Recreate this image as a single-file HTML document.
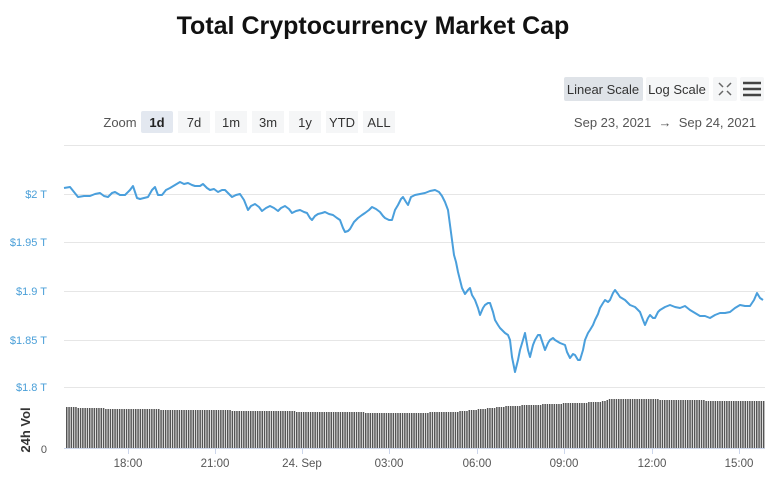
<!DOCTYPE html>
<html><head><meta charset="utf-8"><style>
body{margin:0;background:#fff;width:780px;height:483px;overflow:hidden;font-family:"Liberation Sans",sans-serif}
</style></head><body>
<svg width="780" height="483" xmlns="http://www.w3.org/2000/svg" font-family="Liberation Sans, sans-serif">
<text x="373" y="34" text-anchor="middle" font-size="25" font-weight="bold" fill="#111">Total Cryptocurrency Market Cap</text>
<rect x="564" y="77" width="79" height="24" rx="2" fill="#dfe3e8"/>
<text x="603" y="94" text-anchor="middle" font-size="13" fill="#333">Linear Scale</text>
<rect x="646" y="77" width="63" height="24" rx="2" fill="#f5f6f7"/>
<text x="677" y="94" text-anchor="middle" font-size="13" fill="#333">Log Scale</text>
<rect x="713" y="77" width="24" height="24" rx="2" fill="#f5f6f7"/>
<g stroke="#666" stroke-width="1.5"><path d="M719 83l4 4M731 83l-4 4M719 95l4-4M731 95l-4-4"/></g>
<rect x="740" y="77" width="24" height="24" rx="2" fill="#f5f6f7"/>
<g stroke="#444" stroke-width="2.5"><path d="M743 83h18M743 89h18M743 95h18"/></g>
<text x="665" y="127" text-anchor="middle" font-size="13" fill="#555">Sep 23, 2021 &#160;→&#160; Sep 24, 2021</text>
<text x="120" y="127" text-anchor="middle" font-size="13" fill="#555">Zoom</text>
<rect x="141" y="111" width="32" height="22" rx="2" fill="#e3e8f0"/>
<text x="157" y="127" text-anchor="middle" font-size="13" font-weight="bold" fill="#222">1d</text>
<g font-size="13" fill="#333" text-anchor="middle">
<rect x="178" y="111" width="32" height="22" fill="#f5f6f7"/><text x="194" y="127">7d</text>
<rect x="215" y="111" width="32" height="22" fill="#f5f6f7"/><text x="231" y="127">1m</text>
<rect x="252" y="111" width="32" height="22" fill="#f5f6f7"/><text x="268" y="127">3m</text>
<rect x="289" y="111" width="32" height="22" fill="#f5f6f7"/><text x="305" y="127">1y</text>
<rect x="326" y="111" width="32" height="22" fill="#f5f6f7"/><text x="342" y="127">YTD</text>
<rect x="363" y="111" width="32" height="22" fill="#f5f6f7"/><text x="379" y="127">ALL</text>
</g>
<g stroke="#e6e6e6" stroke-width="1">
<path d="M64 145.5H765M64 194.5H765M64 242.5H765M64 291.5H765M64 340.5H765M64 387.5H765"/>
</g>
<g font-size="11" fill="#4a9fd8" text-anchor="end">
<text x="47" y="198">$2 T</text><text x="47" y="246">$1.95 T</text><text x="47" y="295">$1.9 T</text><text x="47" y="344">$1.85 T</text><text x="47" y="391">$1.8 T</text>
</g>
<text x="47" y="453" font-size="11" fill="#555" text-anchor="end">0</text>
<text transform="translate(30,430) rotate(-90)" font-size="13" font-weight="bold" fill="#333" text-anchor="middle">24h Vol</text>
<g id="bars"></g>
<line x1="64" y1="448.5" x2="765" y2="448.5" stroke="#ccd6eb"/>
<polyline fill="none" stroke="#4a9fdc" stroke-width="2" stroke-linejoin="round" points="64,188 70,187 74,192 78,197 84,196 90,196 95,194 100,193 104,196 108,197 112,193 115,192 120,195 125,195 130,190 133,186 137,198 140,199 148,197 152,190 155,187 158,195 162,195 166,190 170,188 175,185 180,182 184,184 188,183 192,185 195,186 200,186 203,184 207,188 210,190 214,189 218,192 222,190 225,190 229,194 232,197 236,195 240,194 244,200 248,210 251,206 255,204 259,207 262,211 266,208 270,206 274,208 278,211 281,208 285,206 289,209 292,213 296,211 300,210 304,212 307,213 310,218 312,220 315,216 318,214 322,213 325,212 329,214 333,215 337,218 340,220 343,228 345,232 348,231 350,229 354,222 358,218 362,215 365,213 369,210 372,207 376,209 380,212 383,216 385,218 389,220 392,220 395,210 398,205 401,199 403,197 406,202 408,205 411,197 415,195 420,194 425,193 430,191 435,190 439,192 442,196 445,202 448,210 450,225 452,240 454,255 456,262 458,272 460,280 462,288 465,294 468,290 470,288 472,295 475,300 478,308 480,315 483,308 485,305 488,303 490,303 493,312 495,320 498,325 500,328 503,331 505,333 508,335 510,340 512,357 515,372 518,360 520,350 523,340 525,333 528,350 530,357 533,345 535,340 538,335 540,335 543,344 545,350 548,343 550,340 553,338 555,340 560,343 565,345 567,352 570,358 573,354 575,355 578,360 580,360 583,350 585,340 588,333 590,330 593,325 595,320 598,314 600,308 603,303 605,300 608,302 610,300 613,293 615,290 618,294 620,297 625,300 630,305 635,307 640,312 643,320 645,325 648,318 650,315 653,318 655,318 658,312 660,310 665,307 670,305 675,307 680,308 685,306 690,310 695,313 700,316 705,316 710,318 715,315 720,313 725,313 730,312 735,308 740,305 745,306 750,306 754,300 757,293 760,298 763,300"/>
<g font-size="11.5" fill="#555" text-anchor="middle">
<text x="128" y="467">18:00</text><text x="215" y="467">21:00</text><text x="302" y="467">24. Sep</text><text x="389" y="467">03:00</text><text x="477" y="467">06:00</text><text x="564" y="467">09:00</text><text x="652" y="467">12:00</text><text x="739" y="467">15:00</text>
</g>
<g stroke="#ccd6eb"><path d="M128.5 448v6M215.5 448v6M302.5 448v6M389.5 448v6M477.5 448v6M564.5 448v6M652.5 448v6M739.5 448v6"/></g>
</svg>
<script>
(function(){
var prof=[[64,407],[87,408],[120,409],[200,410],[260,411],[330,412],[400,413],[455,412],[480,409],[510,406],[550,404],[600,402],[610,399],[655,399],[660,400],[700,400],[710,401],[765,401]];
function vtop(x){for(var i=0;i<prof.length-1;i++){var a=prof[i],b=prof[i+1];if(x>=a[0]&&x<=b[0]){return a[1]+(b[1]-a[1])*(x-a[0])/(b[0]-a[0]);}}return 401;}
var g=document.getElementById('bars');var NS="http://www.w3.org/2000/svg";
for(var x=66;x<765;x+=2.3){var t=Math.round(vtop(x));var r=document.createElementNS(NS,'rect');
r.setAttribute('x',x.toFixed(1));r.setAttribute('y',t);r.setAttribute('width','1.5');r.setAttribute('height',448-t);r.setAttribute('fill','#555');g.appendChild(r);}
})();
</script>
</body></html>
